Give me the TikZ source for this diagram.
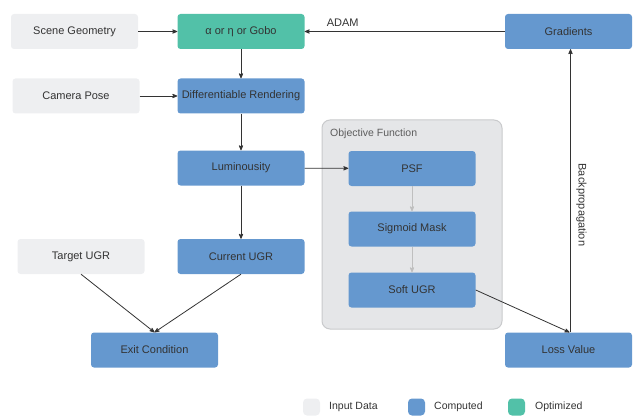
\documentclass[tikz,border=0pt]{standalone}
\usepackage{fontspec}
\setmainfont{Liberation Sans}
\usetikzlibrary{arrows}
\usetikzlibrary{calc}

\definecolor{inputgray}{HTML}{EEEFF1}
\definecolor{compblue}{HTML}{6598CF}
\definecolor{optteal}{HTML}{52C1A8}
\definecolor{framegray}{HTML}{E5E6E8}
\definecolor{edgegray}{HTML}{C9CACC}
\definecolor{inkgray}{HTML}{333333}

\tikzset{
  box/.style={rounded corners=3pt, minimum width=127pt, minimum height=35pt,
    inner sep=1pt, text=inkgray, font=\fontsize{11}{13}\selectfont},
  inputbox/.style={box, fill=inputgray},
  compbox/.style={box, fill=compblue},
  optbox/.style={box, fill=optteal},
  flow/.style={inkgray, line width=0.8pt, ->, >=stealth'},
  innerflow/.style={black!25, line width=0.8pt, ->, >=stealth'},
  legendkey/.style={rounded corners=4pt, minimum width=17pt, minimum height=17pt, inner sep=0pt},
  legendtext/.style={right, text=inkgray, inner sep=0pt, font=\fontsize{10.5}{12}\selectfont}
}

\begin{document}
\begin{tikzpicture}[x=1pt, y=-1pt]
\useasboundingbox (0,0) rectangle (634,417);

% objective function frame
\draw[fill=framegray, draw=edgegray, line width=1pt, rounded corners=8pt] (322,120) rectangle (502,329);
\node[right, text=inkgray!80, inner sep=0pt, font=\fontsize{10.5}{12}\selectfont] (objtitle) at (330,134) {Objective Function};

% left column
\node[inputbox] (scene) at (74.5,31.5) {Scene Geometry};
\node[inputbox] (camera) at (76,96) {Camera Pose};
\node[inputbox] (target) at (81,256.5) {Target UGR};

% middle column
\node[optbox] (param) at (241,31.5) {α or η or Gobo};
\node[compbox] (render) at (241,96) {Differentiable Rendering};
\node[compbox] (lum) at (241,168) {Luminousity};
\node[compbox] (current) at (241,256.5) {Current UGR};
\node[compbox] (exit) at (154.5,350) {Exit Condition};

% objective function
\node[compbox] (psf) at (412,168.5) {PSF};
\node[compbox] (mask) at (412,229) {Sigmoid Mask};
\node[compbox] (soft) at (412,290) {Soft UGR};

% right column
\node[compbox] (grad) at (568.5,31.5) {Gradients};
\node[compbox] (loss) at (568.5,350) {Loss Value};

% forward pass
\draw[flow] (scene) -- (param);
\draw[flow] (camera) -- (render);
\draw[flow] (param) -- (render);
\draw[flow] (render) -- (lum);
\draw[flow] (lum) -- (current);
\draw[flow] (lum) -- (psf);
\draw[innerflow] (psf) -- (mask);
\draw[innerflow] (mask) -- (soft);
\draw[flow] (target.south) -- (exit.north);
\draw[flow] (current.south) -- (exit.north);
\draw[flow] (soft.east) -- ($(loss.north)+(1,0)$);

% backward pass
\draw[flow] ($(loss.north)+(2,0)$) -- node[pos=0.45, rotate=-90, anchor=south, yshift=2pt, text=inkgray, font=\fontsize{11}{13}\selectfont] {Backpropagation} ($(grad.south)+(2,0)$);
\draw[flow] (grad) -- node[above, pos=0.81, text=inkgray, yshift=1pt, font=\fontsize{11}{13}\selectfont] {ADAM} (param);

% legend
\node[legendkey, fill=inputgray] (keyinput) at (311.5,407) {};
\node[legendtext] (txtinput) at (329,407) {Input Data};
\node[legendkey, fill=compblue] (keycomp) at (416.5,407) {};
\node[legendtext] (txtcomp) at (434,407) {Computed};
\node[legendkey, fill=optteal] (keyopt) at (516.5,407) {};
\node[legendtext] (txtopt) at (535,407) {Optimized};
\end{tikzpicture}
\end{document}
